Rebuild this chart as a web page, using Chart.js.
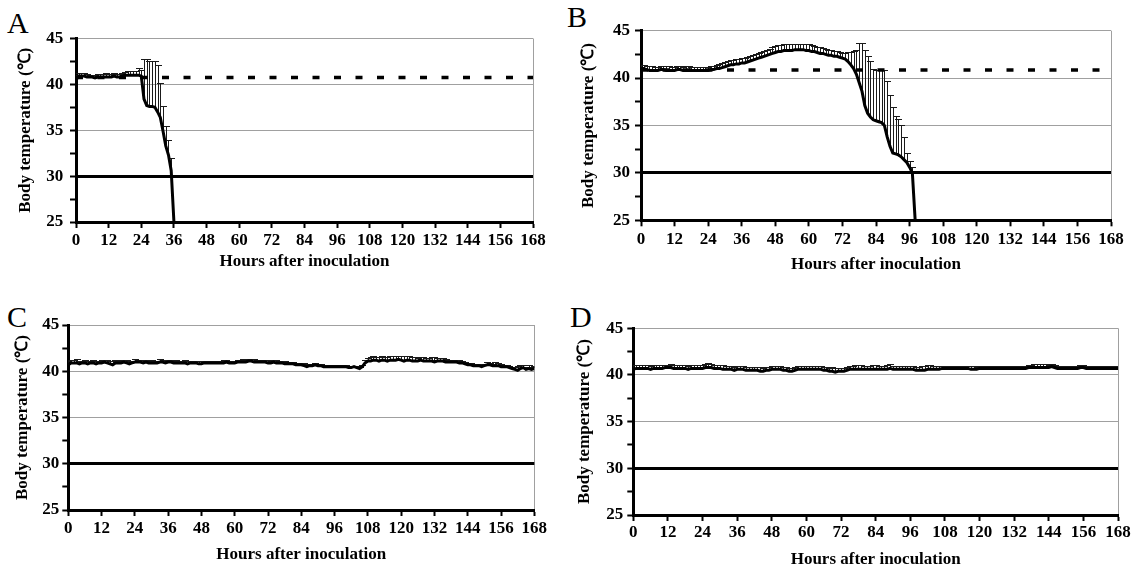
<!DOCTYPE html>
<html><head><meta charset="utf-8">
<script src="https://cdn.jsdelivr.net/npm/chart.js@4/dist/chart.umd.min.js"></script>
<style>
html,body{margin:0;padding:0;background:#fff;width:1134px;height:571px;overflow:hidden;position:relative}
canvas{position:absolute}
.lbl{position:absolute;font-family:"Liberation Serif","Times New Roman",serif;font-size:30px;line-height:30px;color:#000}
</style></head><body>
<div class="lbl" style="left:7px;top:8px">A</div>
<div class="lbl" style="left:567px;top:2px">B</div>
<div class="lbl" style="left:7px;top:302px">C</div>
<div class="lbl" style="left:570px;top:302px">D</div>
<canvas id="cA" width="567" height="285" style="left:0px;top:0px"></canvas>
<canvas id="cB" width="567" height="285" style="left:567px;top:0px"></canvas>
<canvas id="cC" width="567" height="286" style="left:0px;top:285px"></canvas>
<canvas id="cD" width="567" height="286" style="left:567px;top:285px"></canvas>
<script>
// ---- data (hourly readings, hour index = position in array) ----
const xTitle = 'Hours after inoculation';
const yTitle = 'Body temperature (℃)';
const panelLetters = ['A', 'B', 'C', 'D'];

const meanA = [40.5,40.9,40.9,40.9,40.8,40.8,40.8,40.7,40.8,40.8,
  40.8,40.8,40.8,40.8,40.9,40.8,40.8,40.9,41.0,41.0,
  41.0,41.0,41.0,41.0,40.9,38.4,37.7,37.6,37.6,37.5,
  37.0,36.4,34.9,33.3,32.3,30.6,25.0];
const sdA = [0.5,0.3,0.3,0.3,0.3,0.2,0.2,0.3,0.3,0.3,
  0.3,0.4,0.3,0.3,0.3,0.3,0.3,0.3,0.4,0.5,
  0.5,0.5,0.5,0.8,0.7,4.4,5.1,5.0,5.0,5.1,
  5.1,3.7,2.7,2.2,1.6,1.4,0];
const thresholdA = 40.75;

const meanB = [41.0,41.0,40.9,40.8,40.8,40.8,40.8,40.9,40.9,40.8,
  40.8,40.8,40.8,40.9,40.9,40.8,40.8,40.8,40.8,40.8,
  40.8,40.8,40.8,40.8,40.8,40.9,40.9,41.0,41.0,41.1,
  41.2,41.3,41.4,41.4,41.5,41.5,41.6,41.6,41.7,41.8,
  41.9,42.0,42.1,42.2,42.3,42.4,42.5,42.6,42.7,42.8,
  42.8,42.9,42.9,42.9,42.9,43.0,43.0,43.0,43.0,42.9,
  42.9,42.8,42.8,42.7,42.6,42.6,42.5,42.4,42.4,42.3,
  42.3,42.2,42.1,42.0,41.75,41.4,41.0,40.4,39.5,38.6,
  37.1,36.3,35.9,35.6,35.5,35.4,35.3,35.0,33.8,32.8,
  32.1,32.0,31.9,31.7,31.4,31.1,30.6,30.0,25.0];
const sdB = [0.4,0.4,0.4,0.5,0.5,0.4,0.4,0.4,0.4,0.5,
  0.5,0.4,0.4,0.4,0.4,0.4,0.5,0.5,0.4,0.4,
  0.4,0.4,0.4,0.4,0.4,0.4,0.4,0.4,0.5,0.5,
  0.5,0.5,0.5,0.5,0.5,0.5,0.5,0.5,0.5,0.5,
  0.5,0.5,0.5,0.6,0.6,0.6,0.6,0.7,0.7,0.7,
  0.7,0.7,0.7,0.7,0.7,0.6,0.6,0.6,0.6,0.7,
  0.7,0.7,0.6,0.6,0.7,0.6,0.6,0.6,0.6,0.6,
  0.6,0.6,0.6,0.7,1.0,1.4,1.9,2.6,4.2,5.1,
  5.9,6.0,5.95,5.4,5.4,5.5,5.6,5.9,5.9,5.4,
  4.8,4.0,3.8,3.4,2.4,1.0,0.7,0.6,0];
const thresholdB = 40.85;

const meanC = [40.7,40.9,40.9,40.9,40.8,40.9,40.9,40.8,40.9,40.9,
  40.8,40.9,40.9,41.0,40.9,40.8,40.7,40.9,40.9,40.9,
  41.0,40.9,40.8,40.9,41.0,41.0,41.0,40.9,41.0,40.9,
  40.9,40.9,40.9,41.0,41.0,40.9,41.0,41.0,40.9,40.9,
  40.9,40.9,40.9,40.8,40.9,40.9,40.9,40.8,40.8,40.9,
  40.9,40.9,40.9,40.9,40.9,40.9,40.9,41.0,40.9,40.9,
  40.9,41.0,41.0,41.0,41.0,41.1,41.1,41.0,41.0,41.0,
  41.0,41.0,40.9,40.9,41.0,40.9,40.9,40.9,40.8,40.8,
  40.8,40.8,40.7,40.7,40.7,40.6,40.5,40.6,40.6,40.7,
  40.6,40.6,40.5,40.5,40.5,40.5,40.5,40.5,40.5,40.5,
  40.5,40.4,40.4,40.5,40.4,40.3,40.5,40.9,41.1,41.1,
  41.2,41.2,41.1,41.2,41.2,41.1,41.2,41.2,41.2,41.3,
  41.2,41.1,41.2,41.2,41.1,41.1,41.1,41.2,41.1,41.1,
  41.1,41.1,41.0,41.1,41.1,41.1,41.0,41.0,41.0,41.0,
  41.0,40.9,40.9,40.8,40.7,40.7,40.6,40.6,40.6,40.5,
  40.6,40.7,40.7,40.6,40.6,40.6,40.5,40.5,40.5,40.4,
  40.3,40.2,40.1,40.3,40.4,40.2,40.3,40.2,40.3];
const sdC = [0.4,0.3,0.3,0.4,0.3,0.2,0.3,0.3,0.2,0.3,
  0.3,0.2,0.3,0.2,0.3,0.3,0.4,0.3,0.2,0.3,
  0.2,0.3,0.3,0.2,0.3,0.2,0.2,0.3,0.2,0.2,
  0.3,0.2,0.2,0.3,0.2,0.3,0.2,0.2,0.2,0.3,
  0.2,0.2,0.3,0.3,0.2,0.2,0.2,0.3,0.3,0.2,
  0.2,0.2,0.2,0.2,0.2,0.2,0.3,0.2,0.2,0.2,
  0.2,0.2,0.2,0.3,0.2,0.2,0.2,0.3,0.2,0.2,
  0.2,0.2,0.3,0.2,0.2,0.3,0.2,0.2,0.3,0.2,
  0.2,0.2,0.2,0.2,0.2,0.3,0.3,0.2,0.2,0.2,
  0.2,0.2,0.2,0.2,0.2,0.2,0.2,0.2,0.2,0.2,
  0.2,0.2,0.2,0.1,0.2,0.2,0.2,0.3,0.3,0.4,
  0.4,0.3,0.4,0.4,0.3,0.4,0.4,0.4,0.5,0.4,
  0.5,0.6,0.4,0.4,0.4,0.4,0.3,0.3,0.4,0.3,
  0.3,0.4,0.5,0.3,0.3,0.3,0.3,0.2,0.2,0.2,
  0.2,0.3,0.2,0.2,0.2,0.2,0.2,0.2,0.2,0.3,
  0.2,0.3,0.2,0.2,0.4,0.3,0.3,0.2,0.2,0.2,
  0.2,0.3,0.5,0.4,0.3,0.3,0.4,0.3,0.3];

const meanD = [40.6,40.7,40.7,40.7,40.7,40.7,40.6,40.7,40.7,40.7,
  40.7,40.8,40.8,40.8,40.7,40.7,40.7,40.7,40.7,40.6,
  40.7,40.7,40.7,40.7,40.7,40.8,40.8,40.8,40.7,40.7,
  40.7,40.6,40.6,40.6,40.6,40.5,40.6,40.6,40.6,40.5,
  40.5,40.5,40.5,40.5,40.4,40.4,40.5,40.5,40.6,40.6,
  40.6,40.6,40.5,40.5,40.4,40.4,40.5,40.6,40.6,40.6,
  40.6,40.6,40.6,40.6,40.6,40.6,40.5,40.5,40.4,40.4,
  40.3,40.4,40.4,40.4,40.5,40.6,40.6,40.6,40.6,40.6,
  40.6,40.6,40.6,40.6,40.6,40.6,40.6,40.6,40.6,40.7,
  40.6,40.6,40.6,40.6,40.6,40.6,40.6,40.6,40.5,40.5,
  40.5,40.5,40.6,40.6,40.6,40.6,40.6,40.7,40.7,40.7,
  40.7,40.7,40.7,40.7,40.7,40.7,40.7,40.6,40.6,40.6,
  40.7,40.7,40.7,40.7,40.7,40.7,40.7,40.7,40.7,40.7,
  40.7,40.7,40.7,40.7,40.7,40.7,40.7,40.8,40.8,40.8,
  40.8,40.8,40.8,40.8,40.8,40.9,40.8,40.7,40.7,40.7,
  40.7,40.7,40.7,40.7,40.7,40.8,40.8,40.7,40.7,40.7,
  40.7,40.7,40.7,40.7,40.7,40.7,40.7,40.7,40.7];
const sdD = [0.5,0.4,0.4,0.4,0.4,0.4,0.4,0.4,0.4,0.4,
  0.4,0.3,0.3,0.4,0.4,0.4,0.4,0.4,0.4,0.4,
  0.4,0.4,0.4,0.4,0.4,0.4,0.5,0.4,0.4,0.4,
  0.4,0.5,0.4,0.4,0.4,0.4,0.4,0.4,0.4,0.4,
  0.4,0.4,0.4,0.4,0.5,0.4,0.4,0.4,0.4,0.4,
  0.4,0.4,0.4,0.4,0.4,0.4,0.4,0.4,0.4,0.4,
  0.4,0.4,0.4,0.4,0.4,0.4,0.4,0.4,0.4,0.5,
  0.4,0.4,0.4,0.4,0.4,0.4,0.4,0.5,0.5,0.5,
  0.4,0.4,0.4,0.5,0.5,0.4,0.4,0.4,0.5,0.5,
  0.4,0.4,0.4,0.4,0.4,0.4,0.4,0.4,0.4,0.4,
  0.5,0.5,0.5,0.5,0.4,0.4,0.4,0.3,0.3,0.3,
  0.3,0.3,0.3,0.3,0.3,0.3,0.3,0.4,0.4,0.3,
  0.3,0.3,0.3,0.3,0.3,0.3,0.3,0.3,0.3,0.3,
  0.3,0.3,0.3,0.3,0.3,0.3,0.3,0.3,0.3,0.4,
  0.4,0.4,0.4,0.4,0.3,0.3,0.3,0.3,0.3,0.3,
  0.3,0.3,0.3,0.3,0.3,0.3,0.3,0.3,0.3,0.3,
  0.3,0.3,0.3,0.3,0.3,0.3,0.3,0.3,0.3];

const humaneEndpoint = 30;
const hourMin = 0, hourMax = 168, hourStep = 12;
const tempMin = 25, tempMax = 45, tempLabelStep = 5, tempTickStep = 2.5;

// ---- rendering ----
const FONT = '"Liberation Serif","Times New Roman",serif';
const errorBarPlugin = {
  id: 'errorBars',
  beforeDatasetsDraw(chart) {
    const {ctx, chartArea: a, scales: {x, y}} = chart;
    ctx.save();
    ctx.beginPath(); ctx.rect(a.left, a.top - 2, a.right - a.left, a.bottom - a.top + 2); ctx.clip();
    ctx.strokeStyle = '#1a1a1a'; ctx.lineWidth = 1;
    chart.data.datasets.forEach(ds => {
      if (!ds.errorData) return;
      ds.data.forEach((p, i) => {
        const e = ds.errorData[i];
        if (!e) return;
        const px = Math.round(x.getPixelForValue(p.x)) + 0.5;
        const y0 = y.getPixelForValue(p.y);
        const y1 = Math.round(y.getPixelForValue(p.y + e)) + 0.5;
        ctx.beginPath();
        ctx.moveTo(px, y0); ctx.lineTo(px, y1);
        ctx.moveTo(px - 3.5, y1); ctx.lineTo(px + 3.5, y1);
        ctx.stroke();
      });
    });
    ctx.restore();
  }
};

function makePanel(id, mean, sd, threshold, L) {
  const pts = mean.map((v, i) => ({x: i, y: v}));
  const datasets = [{
    data: pts, errorData: sd, borderColor: '#000', borderWidth: 3,
    pointRadius: 0, tension: 0, fill: false
  }];
  if (threshold !== null) {
    datasets.push({
      data: [{x: hourMin, y: threshold}, {x: hourMax, y: threshold}],
      borderColor: '#000', borderWidth: 3.5, borderDash: [7, 14.5],
      pointRadius: 0, fill: false
    });
  }
  const tickFont = {family: FONT, size: 17, weight: 'bold'};
  const titleFont = {family: FONT, size: 17, weight: 'bold'};
  new Chart(document.getElementById(id), {
    type: 'line',
    data: {datasets},
    plugins: [errorBarPlugin],
    options: {
      responsive: false, animation: false, devicePixelRatio: 1,
      layout: {padding: {top: L.padTop, right: L.padRight, left: 0, bottom: 0}},
      plugins: {legend: {display: false}, tooltip: {enabled: false}},
      scales: {
        x: {
          type: 'linear', min: hourMin, max: hourMax,
          ticks: {stepSize: hourStep, autoSkip: false, maxRotation: 0, color: '#000', font: tickFont, padding: L.xTickPad},
          grid: {
            color: c => c.tick.value === hourMax ? '#a0a0a0' : 'rgba(0,0,0,0)',
            lineWidth: 1, tickColor: '#000', tickLength: 6, tickWidth: 2
          },
          border: {color: '#000', width: 3},
          title: {display: true, text: xTitle, color: '#000', font: titleFont, padding: {top: 0, bottom: L.xTitlePad}},
          afterFit: s => { s.height = L.xH; }
        },
        y: {
          min: tempMin, max: tempMax,
          ticks: {stepSize: tempTickStep, autoSkip: false, color: '#000', font: tickFont, padding: L.yTickPad,
            callback: v => (Math.abs(v % tempLabelStep) < 1e-9 ? String(v) : '')},
          grid: {
            color: c => {
              const v = c.tick.value;
              if (v === tempMin) return 'rgba(0,0,0,0)';
              if (v === humaneEndpoint) return '#000';
              return Math.abs(v % tempLabelStep) < 1e-9 ? '#a0a0a0' : 'rgba(0,0,0,0)';
            },
            lineWidth: c => c.tick.value === humaneEndpoint ? 3 : 1,
            tickColor: '#000', tickLength: 6, tickWidth: 2
          },
          border: {color: '#000', width: 3},
          title: {display: true, text: yTitle, color: '#000', font: titleFont, padding: {top: L.yTitlePad, bottom: 0}},
          afterFit: s => { s.width = L.yW; }
        }
      }
    }
  });
}

makePanel('cA', meanA, sdA, thresholdA, {padTop: 38.5, padRight: 34, yW: 76, xH: 63, yTitlePad: 15.8, xTitlePad: 12.8, yTickPad: 6.7, xTickPad: 2.8});
makePanel('cB', meanB, sdB, thresholdB, {padTop: 30.7, padRight: 23, yW: 74, xH: 64.7, yTitlePad: 11.8, xTitlePad: 9.8, yTickPad: 5, xTickPad: 3.5});
makePanel('cC', meanC, sdC, null, {padTop: 40, padRight: 32.7, yW: 68.3, xH: 61, yTitlePad: 12.3, xTitlePad: 5.8, yTickPad: 3, xTickPad: 2.1});
makePanel('cD', meanD, sdD, null, {padTop: 43.3, padRight: 16, yW: 66.3, xH: 56, yTitlePad: 7.8, xTitlePad: 0.8, yTickPad: 4, xTickPad: 1.8});
</script>
</body></html>
